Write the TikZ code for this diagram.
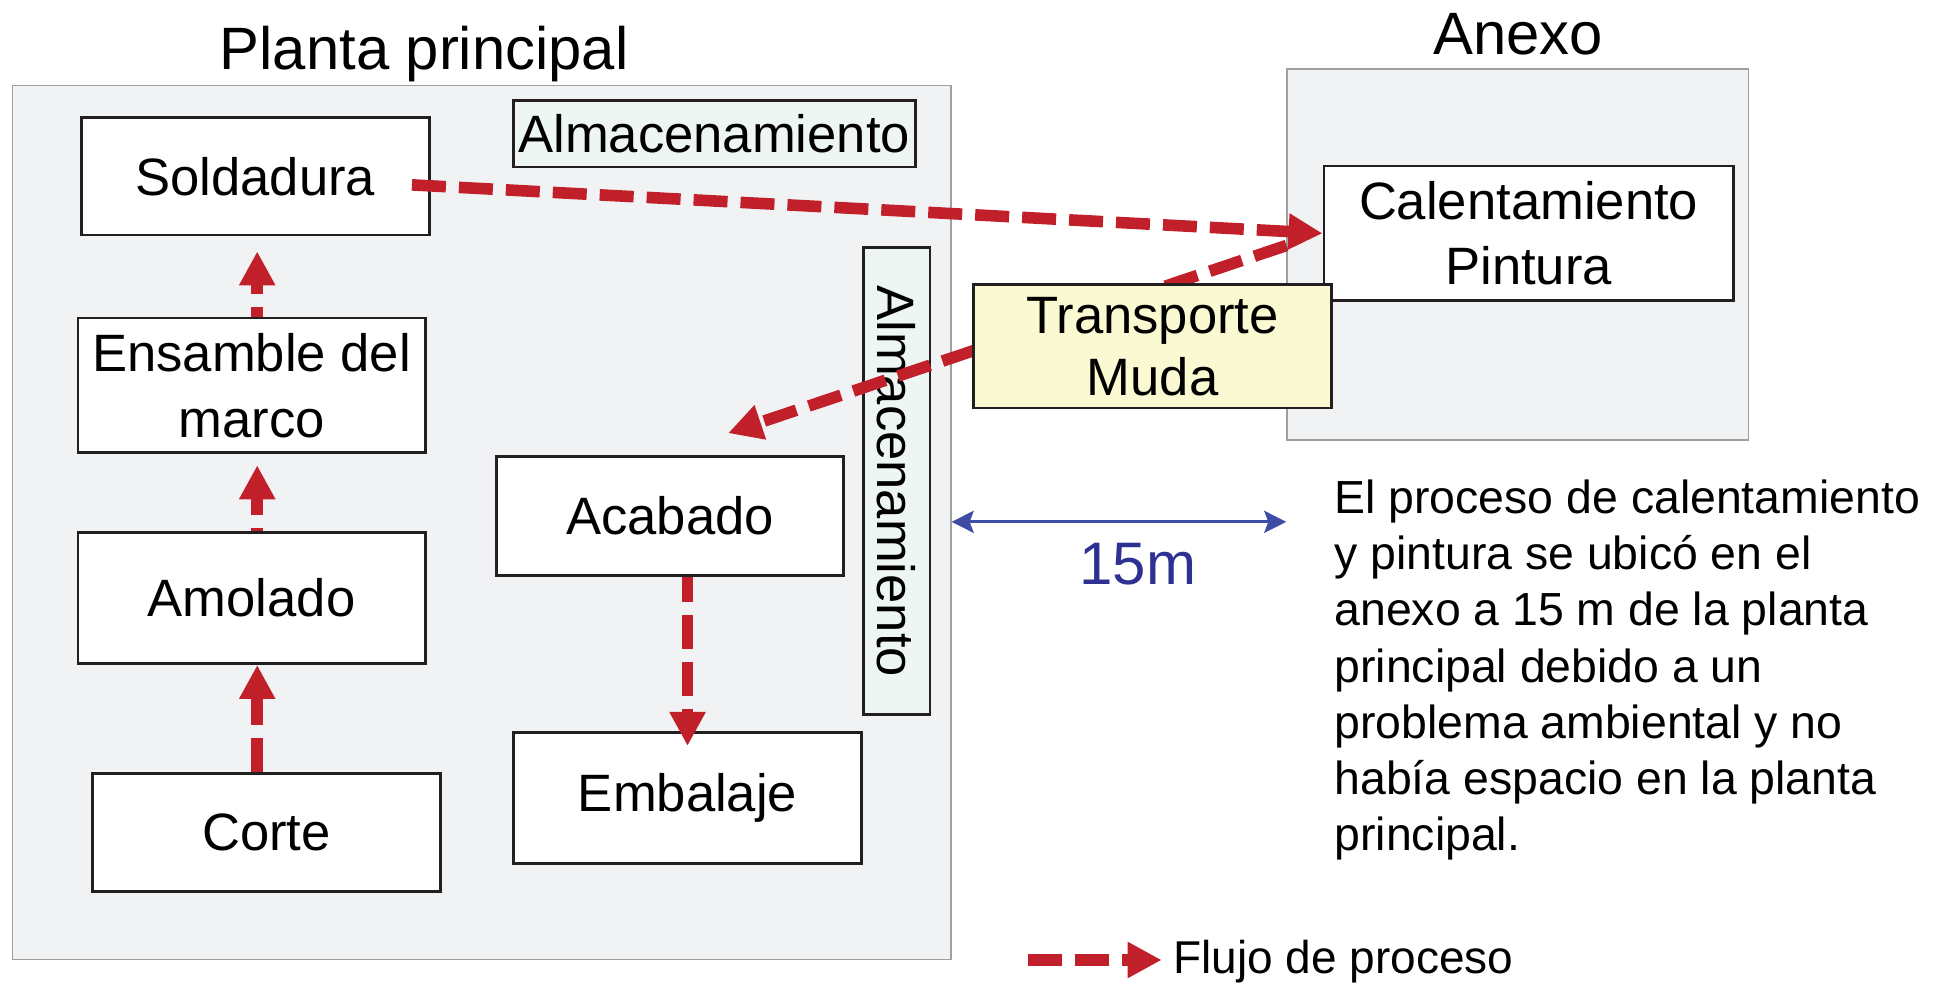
\documentclass[tikz,border=0pt]{standalone}
\usepackage{fontspec}
\setmainfont{Liberation Sans}
\usepackage{xcolor}
\usetikzlibrary{arrows.meta}
\definecolor{FlowRed}{HTML}{C1202A}
\definecolor{DistBlue}{HTML}{3F4CA5}
\definecolor{DistText}{HTML}{2E3192}
\definecolor{PlantGray}{HTML}{F1F2F4}
\definecolor{StoreMint}{HTML}{EEF6F3}
\definecolor{MudaYellow}{HTML}{FBF9D2}
\definecolor{LineDark}{HTML}{231F20}
\newlength{\pxu}
\setlength{\pxu}{0.6183pt}

\begin{document}
\begin{tikzpicture}[x=\pxu, y=-\pxu,
    zone/.style={draw=gray!75, line width=0.7pt, fill=PlantGray, inner sep=0pt},
    title/.style={font=\fontsize{29.9}{34}\selectfont, inner sep=0pt},
    store/.style={draw=LineDark, line width=1.4pt, fill=StoreMint, inner sep=0pt, font=\fontsize{26.3}{32}\selectfont},
    stepbox/.style={draw=LineDark, line width=1.4pt, fill=white, inner sep=0pt, align=center, font=\fontsize{26.3}{32.8}\selectfont},
    flow/.style={FlowRed, line width=5.8pt, dash pattern=on 17pt off 6.5pt, -{Triangle[length=17pt,width=17pt]}},
    dist/.style={DistBlue, line width=1.5pt, {Stealth[length=11pt,width=11pt,inset=2pt]}-{Stealth[length=11pt,width=11pt,inset=2pt]}}]
  \useasboundingbox (0,0) rectangle (1568,796);
  % plants
  \node[zone, minimum width=759\pxu, minimum height=707\pxu] (planta) at (389.5,422.5) {};
  \node[title, anchor=base] (plantatitle) at (343,56) {Planta principal};
  \node[zone, minimum width=373\pxu, minimum height=300\pxu] (anexo) at (1227.2,205.8) {};
  \node[title, anchor=base] (anexotitle) at (1227.7,43.7) {Anexo};

  \node[store, minimum width=325\pxu, minimum height=54\pxu] (almtop) at (577.5,108) {Almacenamiento};
  \node[store, rotate=-90, minimum width=378\pxu, minimum height=54\pxu] (almside) at (725.1,389.1) {Almacenamiento};

  \node[stepbox, minimum width=281\pxu, minimum height=95\pxu] (soldadura) at (206.5,142.5) {Soldadura};
  \node[stepbox, minimum width=281\pxu, minimum height=109\pxu] (ensamble) at (203.5,311.7) {Ensamble del\\marco};
  \node[stepbox, minimum width=281\pxu, minimum height=106\pxu] (amolado) at (203.5,483.6) {Amolado};
  \node[stepbox, minimum width=281\pxu, minimum height=96\pxu] (corte) at (215.5,673.2) {Corte};
  \node[stepbox, minimum width=281\pxu, minimum height=96\pxu] (acabado) at (541.8,417.4) {Acabado};
  \node[stepbox, minimum width=281\pxu, minimum height=106\pxu] (embalaje) at (556,645.2) {Embalaje};
  \node[stepbox, minimum width=331\pxu, minimum height=109\pxu] (calent) at (1236.1,188.7) {Calentamiento\\Pintura};

  % process flow
  \coordinate (flowcol) at (208,0);
  \draw[flow] (corte.north -| flowcol) -- (amolado.south -| flowcol);
  \draw[flow, dash phase=15.5pt, shorten >=5.5pt] (amolado.north -| flowcol) -- (ensamble.south -| flowcol);
  \draw[flow, dash phase=12pt, shorten >=7.5pt] (ensamble.north -| flowcol) -- (soldadura.south -| flowcol);
  \draw[flow] ([shift={(-15,7)}]soldadura.east) -- (calent.west);
  \draw[flow, shorten <=19pt] (calent.west) -- ([shift={(47,-18)}]acabado.north);
  \draw[flow, dash phase=4.5pt, shorten >=-7.5pt] (acabado.south -| embalaje.north) -- (embalaje.north);

  \node[stepbox, fill=MudaYellow, font=\fontsize{26.3}{31}\selectfont, minimum width=290\pxu, minimum height=100\pxu] (transporte) at (932,280) {Transporte\\Muda};

  % distance
  \coordinate (distrow) at (0,422);
  \draw[dist] (planta.east |- distrow) -- (anexo.west |- distrow);
  \node[font=\fontsize{30}{34}\selectfont, text=DistText, inner sep=0pt, anchor=base] (distlbl) at (920,473) {15m};

  \node[align=left, inner sep=0pt, anchor=north west, font=\fontsize{23.2}{28.1}\selectfont] (nota) at (1078.8,387.7) {El proceso de calentamiento\\y pintura se ubicó en el\\anexo a 15 m de la planta\\principal debido a un\\problema ambiental y no\\había espacio en la planta\\principal.};

  % legend
  \node[inner sep=0pt, anchor=base west, font=\fontsize{23}{28}\selectfont] (leyenda) at (948.6,787) {Flujo de proceso};
  \coordinate (legstart) at (831,776.3);
  \draw[flow, shorten >=5.7pt] (legstart) -- (leyenda.west |- legstart);
\end{tikzpicture}
\end{document}
